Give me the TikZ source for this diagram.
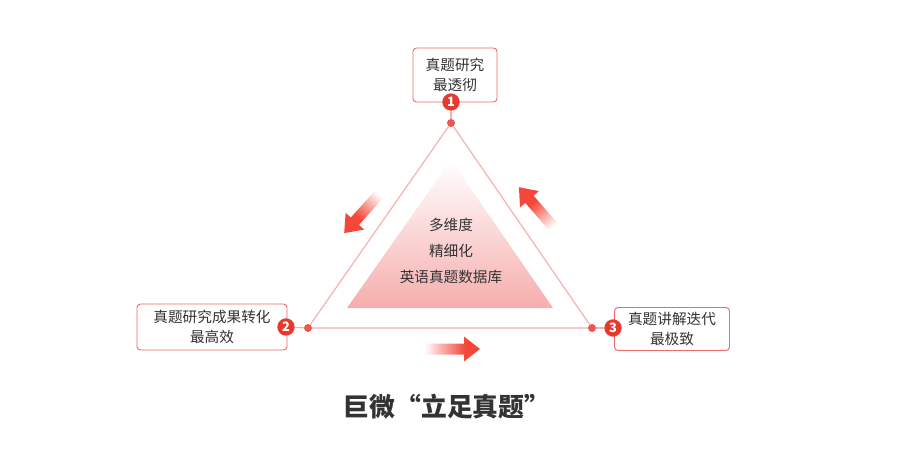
\documentclass[tikz,border=0pt]{standalone}
\usepackage{fontspec}
\setmainfont{Noto Sans CJK SC}
\usepackage{tikz}
\usetikzlibrary{positioning}
\usepackage{xcolor}
\definecolor{boxred}{HTML}{F06A6A}
\definecolor{badgered}{HTML}{E8392E}
\definecolor{rimpink}{HTML}{F8AEAE}
\definecolor{basepink}{HTML}{F6ADAD}
\definecolor{fadered}{HTML}{F4473A}
\definecolor{textgray}{HTML}{333333}
\pgfdeclarehorizontalshading{arrowfade}{100bp}{color(0bp)=(white); color(27bp)=(white); color(62bp)=(fadered); color(100bp)=(fadered)}

\begin{document}
\begin{tikzpicture}[
    x=0.3mm, y=-0.3mm,
    txt/.style      = {font=\fontsize{12.5}{17}\selectfont, text=textgray, align=center},
    infobox/.style  = {txt, draw=boxred, line width=0.8pt, rounded corners=3pt, fill=white},
    badge/.style    = {circle, fill=badgered, text=white, font=\fontsize{11}{11}\selectfont\bfseries, inner sep=0pt, minimum size=5.2mm},
    joint/.style    = {circle, fill=badgered!85, inner sep=0pt, minimum size=2.4mm},
    rim/.style      = {draw=rimpink, line width=1pt},
    fadearrow/.style = {shading=arrowfade}
]
\useasboundingbox (0,0) rectangle (900,471);

% inner triangle
\path[top color=white, bottom color=basepink] (451,160) -- (553,308) -- (347,308) -- cycle;
\node[txt, font=\fontsize{12.5}{22.5}\selectfont] (core) at (451,251) {多维度\\精细化\\英语真题数据库};

% boxes
\node[infobox, minimum width=25.2mm, minimum height=16.2mm] (b1) at (455,75) {真题研究\\最透彻};
\node[infobox, minimum width=45mm, minimum height=13.8mm]   (b2) at (212,327) {真题研究成果转化\\最高效};
\node[infobox, minimum width=34.5mm, minimum height=12.9mm] (b3) at (672,329) {真题讲解迭代\\最极致};

% corners
\node[joint] (d1) at (451,123) {};
\node[joint] (d2) at (308,328) {};
\node[joint] (d3) at (592,328) {};
\node[badge] (n1) at (451,102) {1};
\node[badge] (n2) at (286,327) {2};
\node[badge] (n3) at (613,328) {3};

\draw[rim] (d1) -- (d2) -- (d3) -- (d1);
\foreach \i in {1,2,3}
  \draw[rim] (n\i) -- (d\i);

% faded arrows
\foreach \x/\y/\r in {422/349/0, 383/190/228, 557/231/131}
  \path[fadearrow, shading angle=\r, shift={(\x,\y)}, rotate=\r]
    (0,-5.5) -- (42,-5.5) -- (42,-12.5) -- (58,0) -- (42,12.5) -- (42,5.5) -- (0,5.5) -- cycle;

\node[font=\fontsize{22}{26}\selectfont\bfseries, text=textgray] (title) at (447,407) {巨微“立足真题”};
\end{tikzpicture}
\end{document}
